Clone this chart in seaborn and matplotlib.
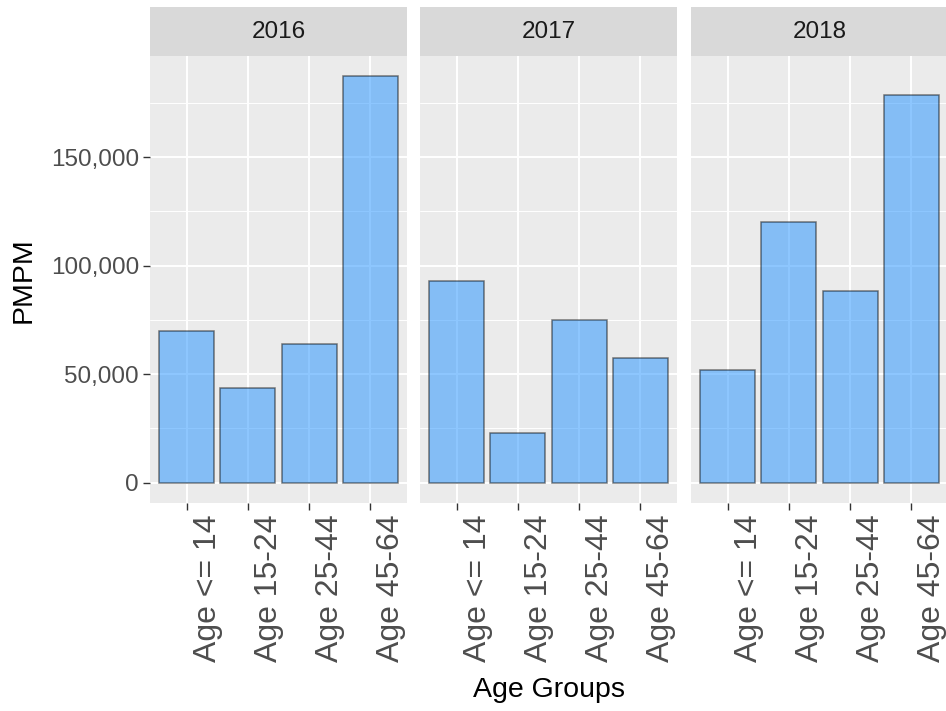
import matplotlib.pyplot as plt
import matplotlib.ticker as mticker
import matplotlib.transforms as mtransforms
import pandas as pd
import seaborn as sns

years = ['2016', '2017', '2018']
age_groups = ['Age <= 14', 'Age 15-24', 'Age 25-44', 'Age 45-64']
pmpm_2016 = [69700, 43700, 64150, 187300]
pmpm_2017 = [93050, 23100, 75200, 57500]
pmpm_2018 = [52150, 120000, 88450, 178900]

df = pd.DataFrame({
    'year': [y for y in years for _ in age_groups],
    'age': age_groups * len(years),
    'pmpm': pmpm_2016 + pmpm_2017 + pmpm_2018,
})

sns.set_theme(style='darkgrid', rc={
    'axes.facecolor': '#EBEBEB',
    'figure.facecolor': 'white',
    'grid.color': 'white',
})
plt.rcParams['font.family'] = ['Liberation Sans', 'DejaVu Sans']

W, H = 946, 711
fig = plt.figure(figsize=(W / 100, H / 100), dpi=100)

# panel geometry in pixels (ggplot facet layout)
panel_left = [150, 420, 691]
panel_w = 257
panel_top, panel_bot = 56, 503
strip_top = 7

ymax = df['pmpm'].max()
ylim = (-0.05 * ymax, 1.05 * ymax)

# nudge rotated x labels a little to the right of the tick, like ggplot does
offset = mtransforms.ScaledTranslation(6 / 100, 0, fig.dpi_scale_trans)

for i, yr in enumerate(years):
    x0 = panel_left[i] / W
    ax = fig.add_axes([x0, 1 - panel_bot / H, panel_w / W, (panel_bot - panel_top) / H])
    sub = df[df['year'] == yr]
    sns.barplot(data=sub, x='age', y='pmpm', order=age_groups, ax=ax,
                color='dodgerblue', saturation=1, alpha=0.5,
                edgecolor='black', linewidth=1.1, width=0.9, zorder=3)
    ax.set_xlim(-0.6, 3.6)
    ax.set_ylim(*ylim)
    ax.yaxis.set_major_locator(mticker.MultipleLocator(50000))
    ax.yaxis.set_minor_locator(mticker.MultipleLocator(25000))
    ax.yaxis.set_major_formatter(mticker.FuncFormatter(lambda v, p: f'{v:,.0f}'))
    ax.grid(which='major', color='white', linewidth=1.4)
    ax.grid(which='minor', axis='y', color='white', linewidth=0.7)
    ax.set_axisbelow(True)
    for s in ax.spines.values():
        s.set_visible(False)
    ax.set_xlabel('')
    ax.set_ylabel('')

    ax.tick_params(axis='x', which='major', bottom=True, length=5, width=1,
                   color='#333333', labelcolor='#4D4D4D', labelsize=23, pad=3)
    ax.set_xticks(range(len(age_groups)))
    ax.set_xticklabels(age_groups, rotation=90, ha='left', va='top')
    for lab in ax.get_xticklabels():
        lab.set_transform(lab.get_transform() + offset)

    if i == 0:
        ax.tick_params(axis='y', which='major', left=True, length=5, width=1,
                       color='#333333', labelcolor='#4D4D4D', labelsize=17.5, pad=3)
    else:
        ax.tick_params(axis='y', which='both', left=False, labelleft=False)
    ax.tick_params(axis='y', which='minor', left=False)

    # facet strip
    sax = fig.add_axes([x0, 1 - panel_top / H, panel_w / W, (panel_top - strip_top) / H])
    sax.set_facecolor('#D9D9D9')
    sax.set_xticks([])
    sax.set_yticks([])
    sax.grid(False)
    for s in sax.spines.values():
        s.set_visible(False)
    sax.text(0.5, 0.5, yr, ha='center', va='center', fontsize=17.5,
             color='#1A1A1A', transform=sax.transAxes)

fig.text(549 / W, 1 - 690 / H, 'Age Groups', ha='center', va='center',
         fontsize=20.5, color='black')
fig.text(24 / W, 1 - 280 / H, 'PMPM', ha='center', va='center',
         rotation=90, fontsize=20.5, color='black')

fig.savefig('out.png', dpi=100)
